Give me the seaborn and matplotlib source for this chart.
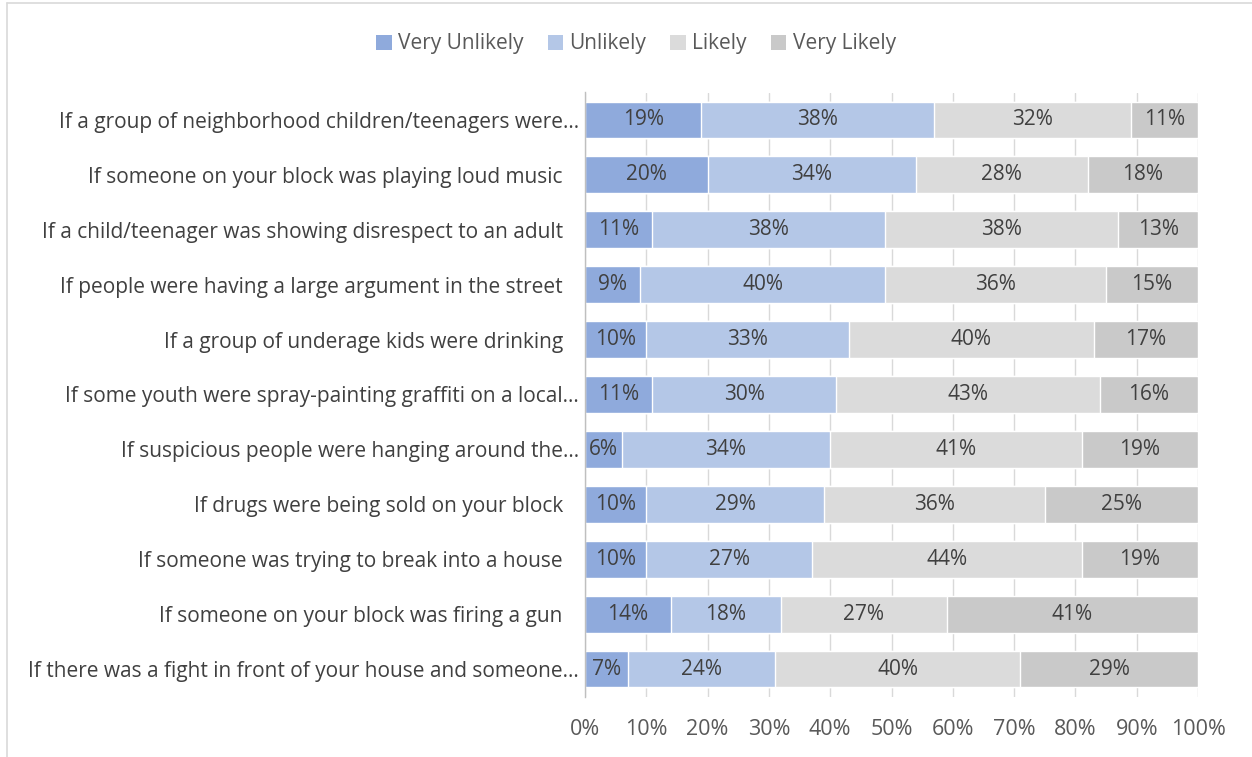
import matplotlib
matplotlib.use("Agg")
import matplotlib.pyplot as plt
from matplotlib.lines import Line2D
from matplotlib.patches import Patch
from matplotlib.transforms import ScaledTranslation
import seaborn as sns
import pandas as pd
import numpy as np

questions = [
    "If a group of neighborhood children/teenagers were…",
    "If someone on your block was playing loud music",
    "If a child/teenager was showing disrespect to an adult",
    "If people were having a large argument in the street",
    "If a group of underage kids were drinking",
    "If some youth were spray-painting graffiti on a local…",
    "If suspicious people were hanging around the…",
    "If drugs were being sold on your block",
    "If someone was trying to break into a house",
    "If someone on your block was firing a gun",
    "If there was a fight in front of your house and someone…",
]
very_unlikely = [19, 20, 11, 9, 10, 11, 6, 10, 10, 14, 7]
unlikely = [38, 34, 38, 40, 33, 30, 34, 29, 27, 18, 24]
likely = [32, 28, 38, 36, 40, 43, 41, 36, 44, 27, 40]
very_likely = [11, 18, 13, 15, 17, 16, 19, 25, 19, 41, 29]

series_names = ["Very Unlikely", "Unlikely", "Likely", "Very Likely"]
series_values = [very_unlikely, unlikely, likely, very_likely]
colors = ["#8FAADC", "#B4C7E7", "#DBDBDB", "#C9C9C9"]

sns.set_theme(style="white")
plt.rcParams["font.family"] = ["Open Sans", "DejaVu Sans"]

fig = plt.figure(figsize=(12.52, 7.57), dpi=100)
ax = fig.add_axes([585 / 1252, 1 - 696.5 / 757, (1198 - 585) / 1252, (696.5 - 92.5) / 757])

vals = np.array(series_values, dtype=float)
cum = np.cumsum(vals, axis=0)

# stacked bars: draw cumulative totals from the outermost segment inwards
for i in range(len(series_names) - 1, -1, -1):
    df = pd.DataFrame({"q": questions, "v": cum[i]})
    sns.barplot(data=df, y="q", x="v", orient="h", color=colors[i],
                saturation=1, width=0.67, ax=ax, zorder=2)

# segment value labels
for i in range(len(series_names)):
    for j, q in enumerate(questions):
        left = cum[i][j] - vals[i][j]
        ax.text(left + vals[i][j] / 2, j, f"{int(vals[i][j])}%",
                ha="center", va="center", fontsize=15, color="#404040", zorder=3)

ax.set_xlim(0, 100)
ax.set_ylim(len(questions) - 0.5, -0.5)
ax.set_xticks(np.arange(0, 101, 10))
ax.set_xticklabels([f"{t}%" for t in range(0, 101, 10)])
ax.set_xlabel("")
ax.set_ylabel("")
ax.xaxis.grid(True, color="#D9D9D9", linewidth=1, zorder=0)
ax.set_axisbelow(True)
for s in ["top", "right", "bottom"]:
    ax.spines[s].set_visible(False)
ax.spines["left"].set_color("#BFBFBF")
ax.spines["left"].set_linewidth(1)
ax.tick_params(axis="x", length=0, labelsize=15.5, labelcolor="#595959", pad=16.5)
ax.tick_params(axis="y", length=0, labelsize=15, labelcolor="#404040", pad=16)

# truncated labels keep their ellipsis closer to the axis
for lab in ax.get_yticklabels():
    if lab.get_text().endswith("…"):
        lab.set_transform(lab.get_transform() + ScaledTranslation(0.16, 0, fig.dpi_scale_trans))

handles = [Patch(facecolor=c, edgecolor="none") for c in colors]
fig.legend(handles, series_names, loc="center", ncol=4,
           bbox_to_anchor=(636 / 1252, 1 - 44 / 757), frameon=False,
           fontsize=15, labelcolor="#595959", handlelength=0.75, handleheight=0.75,
           handletextpad=0.3, columnspacing=1.15)

# chart frame edges
fig.add_artist(Line2D([7 / 1252, 7 / 1252], [0, 1 - 3 / 757], color="#D9D9D9", lw=1.2))
fig.add_artist(Line2D([7 / 1252, 1], [1 - 3 / 757, 1 - 3 / 757], color="#D9D9D9", lw=1.2))

fig.savefig("out.png", dpi=100, facecolor="white")
